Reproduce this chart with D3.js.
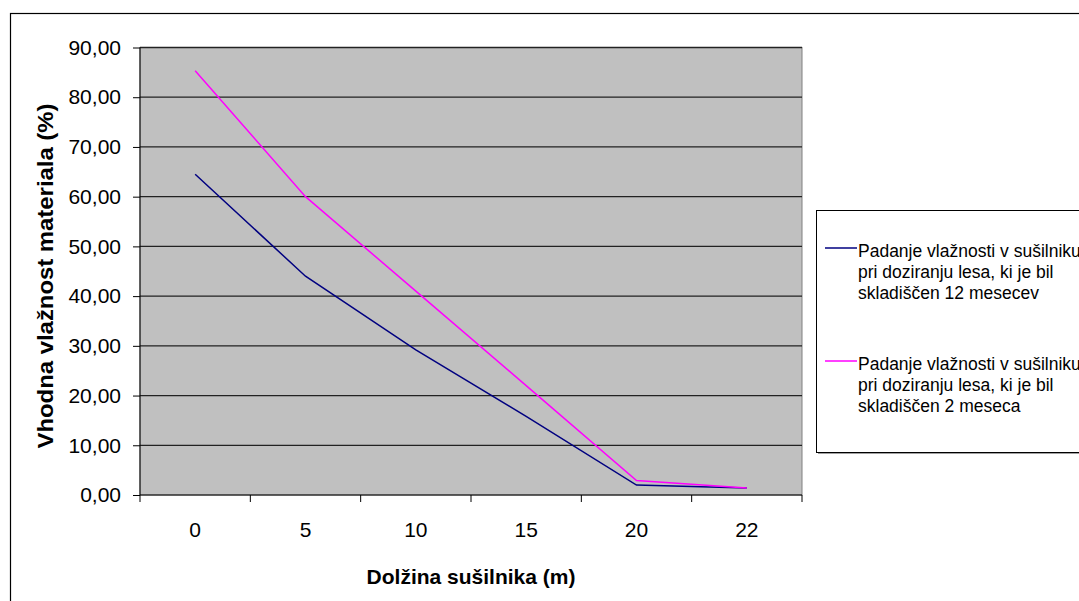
<!DOCTYPE html>
<html><head><meta charset="utf-8">
<script src="https://cdn.jsdelivr.net/npm/d3@7"></script>
<style>body{margin:0;background:#fff}svg{display:block}text{font-family:"Liberation Sans",Arial,sans-serif}</style>
</head><body>
<svg id="c" width="1079" height="601"></svg>
<script>
const categories = ["0","5","10","15","20","22"];
const series12 = [64.5, 44.0, 29.2, 15.8, 2.0, 1.4];
const series2 = [85.3, 60.0, 41.0, 22.0, 2.9, 1.4];
const yTicks = [0,10,20,30,40,50,60,70,80,90];
const seriesNames = [
  ["Padanje vlažnosti v sušilniku","pri doziranju lesa, ki je bil","skladiščen 12 mesecev"],
  ["Padanje vlažnosti v sušilniku","pri doziranju lesa, ki je bil","skladiščen 2 meseca"]
];
const colors = ["#000080","#ff00ff"];

const svg = d3.select("#c");
const L=140, R=802, T=47.5, B=495;
// outer frame
svg.append("rect").attr("x",10.5).attr("y",13.5).attr("width",1100).attr("height",620)
  .attr("fill","none").attr("stroke","#000").attr("stroke-width",1.2);

const x = d3.scaleBand().domain(categories).range([L,R]).paddingInner(0).paddingOuter(0);
const y = d3.scaleLinear().domain([0,90]).range([B,T]);

svg.append("rect").attr("x",L).attr("y",T).attr("width",R-L).attr("height",B-T).attr("fill","#c0c0c0")
  .attr("stroke","#808080").attr("stroke-width",1);

// gridlines
svg.append("g").selectAll("line").data(yTicks.filter(d=>d>0)).join("line")
  .attr("x1",L).attr("x2",R).attr("y1",d=>y(d)).attr("y2",d=>y(d))
  .attr("stroke","#222").attr("stroke-width",1.3);

// y axis
const ya = svg.append("g").attr("transform",`translate(${L},0)`)
  .call(d3.axisLeft(y).tickValues(yTicks).tickSize(7).tickPadding(12).tickFormat(d=>d3.format(".2f")(d).replace(".",",")));
ya.select(".domain").attr("stroke","#000").attr("d",`M0,${B}V${T}`);
ya.selectAll("line").attr("stroke","#000");
ya.selectAll("text").attr("font-size",21).attr("fill","#000").attr("font-family","Liberation Sans, Arial, sans-serif");

// x axis
const xa = svg.append("g").attr("transform",`translate(0,${B})`);
xa.append("line").attr("x1",L).attr("x2",R).attr("y1",0).attr("y2",0).attr("stroke","#000");
const bounds = categories.map(c=>x(c)).concat([x(categories[categories.length-1])+x.bandwidth()]);
xa.selectAll("line.tk").data(bounds).join("line").attr("class","tk")
  .attr("x1",d=>d).attr("x2",d=>d).attr("y1",0).attr("y2",7).attr("stroke","#000");
xa.selectAll("text").data(categories).join("text")
  .attr("x",d=>x(d)+x.bandwidth()/2).attr("y",42).attr("text-anchor","middle")
  .attr("font-size",21).text(d=>d);

// axis titles
svg.append("text").attr("x",(L+R)/2).attr("y",584).attr("text-anchor","middle")
  .attr("font-size",21).attr("font-weight","bold").text("Dolžina sušilnika (m)");
svg.append("text").attr("transform",`translate(53,276) rotate(-90)`).attr("text-anchor","middle")
  .attr("font-size",22).attr("font-weight","bold").attr("textLength",345).attr("lengthAdjust","spacingAndGlyphs")
  .text("Vhodna vlažnost materiala (%)");

// lines
const line = d3.line().x((d,i)=>x(categories[i])+x.bandwidth()/2).y(d=>y(d));
[series12, series2].forEach((s,i)=>{
  svg.append("path").datum(s).attr("d",line).attr("fill","none").attr("stroke",colors[i]).attr("stroke-width",1.5);
});

// legend
const lg = svg.append("g");
lg.append("rect").attr("x",818).attr("y",212).attr("width",300).attr("height",242).attr("fill","#a0a0a0");
lg.append("rect").attr("x",816.5).attr("y",210.5).attr("width",300).attr("height",242)
  .attr("fill","#fff").attr("stroke","#000").attr("stroke-width",1);
const ly = [248, 361];
seriesNames.forEach((lines,i)=>{
  lg.append("line").attr("x1",825).attr("x2",857).attr("y1",ly[i]).attr("y2",ly[i]).attr("stroke",colors[i]).attr("stroke-width",1.5);
  lines.forEach((t,j)=>{
    lg.append("text").attr("x",858).attr("y",ly[i]+8.5+j*21).attr("font-size",17.5).text(t);
  });
});
</script>
</body></html>
